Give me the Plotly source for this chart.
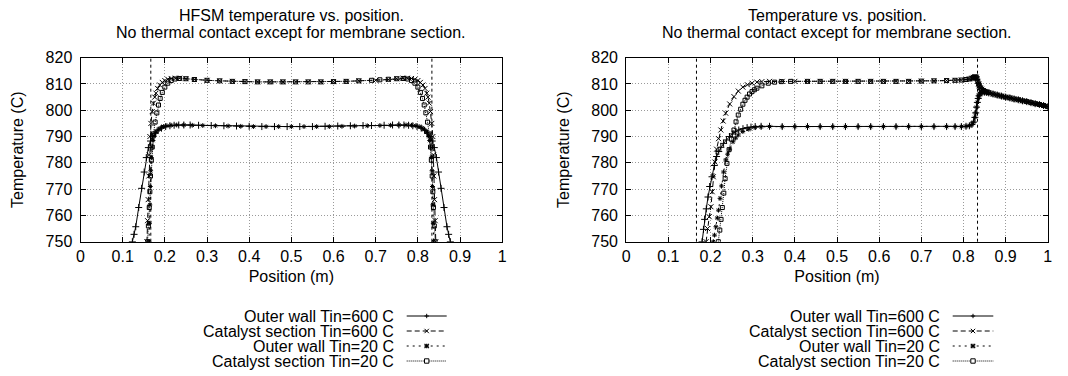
import plotly.graph_objects as go

W, H = 1068, 376
FONT = "Liberation Sans, Arial, Helvetica, sans-serif"

# ---------------- data ----------------
series_names = ["Outer wall Tin=600 C", "Catalyst section Tin=600 C",
                "Outer wall Tin=20 C", "Catalyst section Tin=20 C"]
panel_titles = [["HFSM temperature vs. position.", "No thermal contact except for membrane section."],
                ["Temperature vs. position.", "No thermal contact except for membrane section."]]
x_axis_title = "Position (m)"
y_axis_title = "Temperature (C)"
x_tick_vals = [0, 0.1, 0.2, 0.3, 0.4, 0.5, 0.6, 0.7, 0.8, 0.9, 1.0]
x_tick_text = ["0", "0.1", "0.2", "0.3", "0.4", "0.5", "0.6", "0.7", "0.8", "0.9", "1"]
y_tick_vals = [750, 760, 770, 780, 790, 800, 810, 820]
x_range = [0, 1]
y_range = [750, 820]
section_bounds = [0.1667, 0.8333]

# Left panel (HFSM)
hfsm_ow600_x = [0.123, 0.127, 0.131, 0.138, 0.145, 0.151, 0.156, 0.161, 0.166, 0.171, 0.177, 0.184, 0.192, 0.202,
                0.212, 0.222, 0.233, 0.245, 0.26, 0.28, 0.31, 0.34, 0.37, 0.40, 0.43, 0.46, 0.49, 0.52, 0.55,
                0.58, 0.61, 0.64, 0.67, 0.69, 0.72, 0.74, 0.755, 0.767, 0.778, 0.788, 0.798, 0.808, 0.816,
                0.823, 0.829, 0.834, 0.839, 0.844, 0.849, 0.855, 0.862, 0.869, 0.873, 0.877]
hfsm_ow600_y = [750, 752.8, 755.7, 763, 770.3, 776.5, 782, 785.8, 788.3, 790, 791.3, 792.4, 793.2, 793.8,
                794.1, 794.3, 794.4, 794.4, 794.4, 794.3, 794.2, 794.1, 794.0, 793.9, 793.8, 793.8, 793.8, 793.8, 793.8,
                793.9, 794.0, 794.1, 794.2, 794.2, 794.3, 794.4, 794.4, 794.4, 794.3, 794.1, 793.8, 793.2, 792.4,
                791.3, 790.0, 788.3, 785.8, 782, 776.5, 770.3, 763, 755.7, 752.8, 750]

hfsm_cat600_x = [0.1575, 0.159, 0.1605, 0.162, 0.163, 0.1645, 0.167, 0.170, 0.173, 0.176, 0.179, 0.183, 0.188,
                 0.194, 0.200, 0.207, 0.215, 0.225, 0.235, 0.25, 0.27, 0.30,
                 0.33, 0.36, 0.39, 0.42, 0.45, 0.48, 0.51, 0.54, 0.57, 0.60, 0.63, 0.66,
                 0.70, 0.73, 0.75, 0.765, 0.775, 0.785, 0.793, 0.800, 0.806, 0.812, 0.817, 0.821, 0.824,
                 0.827, 0.830, 0.833, 0.8355, 0.837, 0.838, 0.8395, 0.841, 0.8425]
hfsm_cat600_y = [750, 758, 766, 775, 783, 790, 795, 799.5, 802.7, 805, 806.5, 808.3, 809.6,
                 810.6, 811.3, 811.8, 812.1, 812.2, 812.2, 812.0, 811.7, 811.4,
                 811.2, 811.0, 810.9, 810.8, 810.8, 810.8, 810.8, 810.8, 810.8, 810.9, 811.0, 811.2,
                 811.4, 811.7, 812.0, 812.2, 812.2, 812.1, 811.8, 811.3, 810.6, 809.6, 808.3, 806.5, 805,
                 802.7, 799.5, 795, 790, 783, 775, 766, 758, 750]

hfsm_ow20_x = [0.1625, 0.1635, 0.1645, 0.1655, 0.1665, 0.168, 0.170, 0.172, 0.175, 0.179, 0.184, 0.19, 0.197,
               0.205, 0.215, 0.228, 0.245, 0.265, 0.29, 0.32, 0.35, 0.38, 0.41, 0.44, 0.47, 0.50, 0.53, 0.56,
               0.59, 0.62, 0.65, 0.68, 0.71, 0.735, 0.755, 0.772, 0.785, 0.795, 0.803, 0.81, 0.816, 0.821,
               0.825, 0.828, 0.830, 0.832, 0.8335, 0.8345, 0.8355, 0.8365, 0.8375]
hfsm_ow20_y = [750, 757, 764, 771, 777, 782, 786, 788.5, 790.2, 791.6, 792.6, 793.3, 793.8,
               794.1, 794.3, 794.4, 794.4, 794.3, 794.2, 794.1, 794.0, 793.9, 793.8, 793.8, 793.8, 793.8, 793.8, 793.8,
               793.8, 793.9, 794.0, 794.1, 794.2, 794.3, 794.4, 794.4, 794.3, 794.1, 793.8, 793.3, 792.6, 791.6,
               790.2, 788.5, 786, 782, 777, 771, 764, 757, 750]

hfsm_cat20_x = [0.159, 0.161, 0.163, 0.1645, 0.166, 0.168, 0.170, 0.173, 0.177, 0.181, 0.185, 0.189, 0.194,
                0.200, 0.207, 0.215, 0.224, 0.235, 0.25, 0.27, 0.30, 0.33, 0.36, 0.39, 0.42, 0.45, 0.48, 0.51,
                0.54, 0.57, 0.60, 0.63, 0.66, 0.69, 0.71, 0.73, 0.75, 0.765, 0.776, 0.785, 0.793, 0.800, 0.806,
                0.811, 0.815, 0.819, 0.823, 0.827, 0.830, 0.832, 0.834, 0.8355, 0.837, 0.839, 0.841]
hfsm_cat20_y = [750, 756, 763, 769, 775, 781, 786, 791, 795.5, 799, 802, 804.5, 806.8,
                808.8, 810.3, 811.3, 811.9, 812.1, 812.0, 811.7, 811.4, 811.2, 811.0, 810.9, 810.8, 810.8, 810.8, 810.8,
                810.8, 810.8, 810.9, 811.0, 811.2, 811.4, 811.6, 811.8, 812.0, 812.1, 811.9, 811.3, 810.3, 808.8, 806.8,
                804.5, 802, 799, 795.5, 791, 786, 781, 775, 769, 763, 756, 750]

# Right panel
temp_ow600_x = [0.180, 0.1833, 0.186, 0.190, 0.194, 0.198, 0.2035, 0.209, 0.2144, 0.2195, 0.2245, 0.231, 0.2377,
                0.245, 0.2517, 0.259, 0.267, 0.277, 0.2868, 0.296, 0.306, 0.32, 0.34, 0.37, 0.40, 0.43, 0.46,
                0.49, 0.52, 0.55, 0.58, 0.61, 0.64, 0.67, 0.70, 0.73, 0.76, 0.78, 0.795, 0.806, 0.814, 0.82,
                0.824, 0.827, 0.829, 0.831, 0.833, 0.835, 0.837, 0.839, 0.842, 0.846, 0.85, 0.855, 0.86, 0.87,
                0.88, 0.89, 0.90, 0.91, 0.92, 0.93, 0.94, 0.95, 0.96, 0.97, 0.98, 0.99, 1.0]
temp_ow600_y = [750, 754.7, 758.5, 762.5, 767, 771, 774.7, 779, 782.4, 784.3, 785.9, 787.4, 788.7,
                790, 791, 791.8, 792.5, 793.0, 793.4, 793.6, 793.8, 793.9, 793.9, 793.8, 793.8, 793.8, 793.8,
                793.8, 793.8, 793.8, 793.8, 793.8, 793.8, 793.8, 793.8, 793.8, 793.8, 793.8, 793.8, 793.9, 794.1, 794.6,
                795.5, 797.3, 799, 801.2, 803, 804.5, 805.5, 806.2, 806.8, 807.0, 806.9, 806.8, 806.6, 806.2,
                805.8, 805.4, 805.0, 804.7, 804.3, 804.0, 803.6, 803.3, 802.9, 802.5, 802.2, 801.8, 801.4]

temp_cat600_x = [0.1895, 0.193, 0.197, 0.201, 0.204, 0.2066, 0.2105, 0.2144, 0.219, 0.2245, 0.23, 0.236, 0.2455,
                 0.2556, 0.266, 0.2767, 0.2875, 0.2984, 0.31, 0.3218, 0.34, 0.37, 0.40, 0.43, 0.46, 0.49, 0.52,
                 0.55, 0.58, 0.61, 0.64, 0.67, 0.70, 0.73, 0.76, 0.78, 0.795, 0.806, 0.814, 0.82, 0.824, 0.827,
                 0.830, 0.832, 0.834, 0.836, 0.8375, 0.840, 0.843, 0.847, 0.851, 0.855, 0.86, 0.87, 0.88, 0.89,
                 0.90, 0.91, 0.92, 0.93, 0.94, 0.95, 0.96, 0.97, 0.98, 0.99, 1.0]
temp_cat600_y = [750, 755, 759.5, 763.3, 769, 774.7, 780.3, 785.2, 789.2, 792.5, 795.9, 798.9, 802.4,
                 805.2, 807.3, 808.8, 809.7, 810.3, 810.7, 810.9, 811.0, 811.0, 811.0, 811.0, 811.0, 811.0, 811.0,
                 811.0, 811.0, 811.0, 811.0, 811.0, 811.1, 811.2, 811.3, 811.4, 811.5, 811.7, 811.9, 812.2, 812.5, 812.7,
                 812.6, 812.0, 811.0, 810.0, 809.3, 808.5, 808.0, 807.5, 807.1, 806.9, 806.7, 806.2, 805.8, 805.4,
                 805.0, 804.7, 804.3, 804.0, 803.6, 803.3, 802.9, 802.5, 802.2, 801.8, 801.4]

temp_ow20_x = [0.2065, 0.2095, 0.2128, 0.216, 0.219, 0.2225, 0.226, 0.231, 0.236, 0.2405, 0.2455, 0.2533, 0.2595,
               0.2658, 0.2767, 0.2907, 0.306, 0.32, 0.34, 0.37, 0.40, 0.43, 0.46, 0.49, 0.52, 0.55, 0.58, 0.61,
               0.64, 0.67, 0.70, 0.73, 0.76, 0.78, 0.795, 0.806, 0.814, 0.82, 0.824, 0.827, 0.829, 0.831, 0.833,
               0.835, 0.837, 0.839, 0.842, 0.846, 0.85, 0.855, 0.86, 0.87, 0.88, 0.89, 0.90, 0.91, 0.92, 0.93,
               0.94, 0.95, 0.96, 0.97, 0.98, 0.99, 1.0]
temp_ow20_y = [750, 752.5, 755.7, 759, 762, 766.5, 771.2, 776.5, 781.1, 783.3, 785.2, 788, 789.4,
               790.6, 791.9, 792.8, 793.5, 793.7, 793.8, 793.8, 793.8, 793.8, 793.8, 793.8, 793.8, 793.8, 793.8, 793.8,
               793.8, 793.8, 793.8, 793.8, 793.8, 793.8, 793.8, 793.9, 794.1, 794.6, 795.5, 797.3, 799, 801.2, 803,
               804.5, 805.5, 806.2, 806.8, 807.0, 806.9, 806.8, 806.6, 806.2, 805.8, 805.4, 805.0, 804.7, 804.3, 804.0,
               803.6, 803.3, 802.9, 802.5, 802.2, 801.8, 801.4]

temp_cat20_x = [0.2185, 0.222, 0.225, 0.228, 0.2315, 0.2346, 0.239, 0.244, 0.2495, 0.2556, 0.2605, 0.2658, 0.2715,
                0.2767, 0.2818, 0.2868, 0.2925, 0.2984, 0.304, 0.31, 0.3218, 0.337, 0.352, 0.368, 0.39, 0.43,
                0.46, 0.49, 0.52, 0.55, 0.58, 0.61, 0.64, 0.67, 0.70, 0.73, 0.76, 0.78, 0.795, 0.806, 0.814, 0.82,
                0.824, 0.827, 0.830, 0.832, 0.834, 0.836, 0.8375, 0.840, 0.843, 0.847, 0.851, 0.855, 0.86, 0.87,
                0.88, 0.89, 0.90, 0.91, 0.92, 0.93, 0.94, 0.95, 0.96, 0.97, 0.98, 0.99, 1.0]
temp_cat20_y = [750, 754.4, 758.5, 763, 768.5, 774, 779.8, 785, 789, 792.5, 795.6, 798.2, 800.4,
                802.3, 803.8, 805, 806.2, 807.1, 807.8, 808.4, 809.3, 810.3, 810.7, 810.9, 811.0, 811.0,
                811.0, 811.0, 811.0, 811.0, 811.0, 811.0, 811.0, 811.0, 811.1, 811.2, 811.3, 811.4, 811.5, 811.7, 811.9, 812.2,
                812.5, 812.7, 812.6, 812.0, 811.0, 810.0, 809.3, 808.5, 808.0, 807.5, 807.1, 806.9, 806.7, 806.2,
                805.8, 805.4, 805.0, 804.7, 804.3, 804.0, 803.6, 803.3, 802.9, 802.5, 802.2, 801.8, 801.4]

panels = [
    [(hfsm_ow600_x, hfsm_ow600_y), (hfsm_cat600_x, hfsm_cat600_y),
     (hfsm_ow20_x, hfsm_ow20_y), (hfsm_cat20_x, hfsm_cat20_y)],
    [(temp_ow600_x, temp_ow600_y), (temp_cat600_x, temp_cat600_y),
     (temp_ow20_x, temp_ow20_y), (temp_cat20_x, temp_cat20_y)],
]

# ---------------- styling / layout (pixel geometry) ----------------
styles = [
    dict(dash="solid", symbol="cross-thin-open", size=5),
    dict(dash="5px,3px", symbol="x-thin-open", size=5),
    dict(dash="2px,4px", symbol="asterisk-open", size=4),
    dict(dash="1px,1px", symbol="square-open", size=4),
]
plot_box = [(80.5, 502.2), (626.2, 1047.8)]   # pixel x extents of the two plots
plot_top, plot_bottom = 57.7, 241.7


def px(p):
    return p / W


def py(p):
    return 1 - p / H


fig = go.Figure()
for k, panel in enumerate(panels):
    xa = "x" if k == 0 else "x2"
    ya = "y" if k == 0 else "y2"
    for i, (xs, ys) in enumerate(panel):
        st = styles[i]
        fig.add_trace(go.Scatter(
            x=xs, y=ys, mode="lines+markers", name=series_names[i], showlegend=False,
            xaxis=xa, yaxis=ya,
            line=dict(color="black", width=1, dash=st["dash"]),
            marker=dict(symbol=st["symbol"], size=st["size"], color="black",
                        line=dict(color="black", width=1)),
        ))

axis_common = dict(
    showline=True, linecolor="black", linewidth=1, mirror="allticks",
    ticks="inside", ticklen=5, tickcolor="black", tickwidth=1,
    showgrid=True, gridcolor="#9a9a9a", griddash="1px,2px", gridwidth=1,
    zeroline=False, tickfont=dict(family=FONT, size=16, color="black"),
    automargin=False,
)

layout_axes = {}
for k in range(2):
    x0, x1 = plot_box[k]
    xkey = "xaxis" if k == 0 else "xaxis2"
    ykey = "yaxis" if k == 0 else "yaxis2"
    layout_axes[xkey] = dict(
        axis_common, domain=[px(x0), px(x1)], range=x_range,
        tickmode="array", tickvals=x_tick_vals, ticktext=x_tick_text,
        anchor="y" if k == 0 else "y2", ticklabelstandoff=0,
        title=dict(text=x_axis_title, font=dict(family=FONT, size=16, color="black"), standoff=6),
    )
    layout_axes[ykey] = dict(
        axis_common, domain=[py(plot_bottom), py(plot_top)], range=y_range,
        tickmode="array", tickvals=y_tick_vals,
        anchor="x" if k == 0 else "x2", ticklabelstandoff=4,
        title=dict(text=y_axis_title, font=dict(family=FONT, size=16, color="black"), standoff=17),
    )

fig.update_layout(
    width=W, height=H, margin=dict(l=0, r=0, t=0, b=0),
    paper_bgcolor="white", plot_bgcolor="white",
    font=dict(family=FONT, size=16, color="black"),
    showlegend=False,
    **layout_axes,
)

# membrane section boundaries
for k in range(2):
    xr = "x" if k == 0 else "x2"
    for b in section_bounds:
        fig.add_shape(type="line", xref=xr, yref=("y domain" if k == 0 else "y2 domain"),
                      x0=b, x1=b, y0=0, y1=1,
                      line=dict(color="black", width=1, dash="3px,3px"))

# titles
for k in range(2):
    cx = (plot_box[k][0] + plot_box[k][1]) / 2
    for j, (t, yy) in enumerate(zip(panel_titles[k], [15.3, 32.6])):
        fig.add_annotation(text=t, x=px(cx), y=py(yy), xref="paper", yref="paper",
                           xanchor="center", yanchor="middle", showarrow=False,
                           font=dict(family=FONT, size=16, color="black"))

# gnuplot-style legends (text right-aligned, sample to the right)
legend_geo = [(396.0, 406.7, 446.7), (941.7, 952.7, 993.3)]
row_y = [316, 331, 346, 361]
for k in range(2):
    tr, sl, sr = legend_geo[k]
    cxm = (sl + sr) / 2
    for i, name in enumerate(series_names):
        cy = row_y[i]
        fig.add_annotation(text=name, x=px(tr), y=py(cy), xref="paper", yref="paper",
                           xanchor="right", yanchor="middle", showarrow=False,
                           font=dict(family=FONT, size=16, color="black"))
        fig.add_shape(type="line", xref="paper", yref="paper",
                      x0=px(sl), x1=px(sr), y0=py(cy), y1=py(cy),
                      line=dict(color="black", width=1, dash=styles[i]["dash"]))
        r = 2.2
        segs = []
        if i in (0, 2):
            segs += [((cxm - r, cy), (cxm + r, cy)), ((cxm, cy - r), (cxm, cy + r))]
        if i in (1, 2):
            segs += [((cxm - r, cy - r), (cxm + r, cy + r)), ((cxm - r, cy + r), (cxm + r, cy - r))]
        for (a, b) in segs:
            fig.add_shape(type="line", xref="paper", yref="paper",
                          x0=px(a[0]), y0=py(a[1]), x1=px(b[0]), y1=py(b[1]),
                          line=dict(color="black", width=1.2 if i == 2 else 1))
        if i == 3:
            fig.add_shape(type="rect", xref="paper", yref="paper",
                          x0=px(cxm - r), x1=px(cxm + r), y0=py(cy - r), y1=py(cy + r),
                          line=dict(color="black", width=1), fillcolor="white")

fig.write_html("out.html")
